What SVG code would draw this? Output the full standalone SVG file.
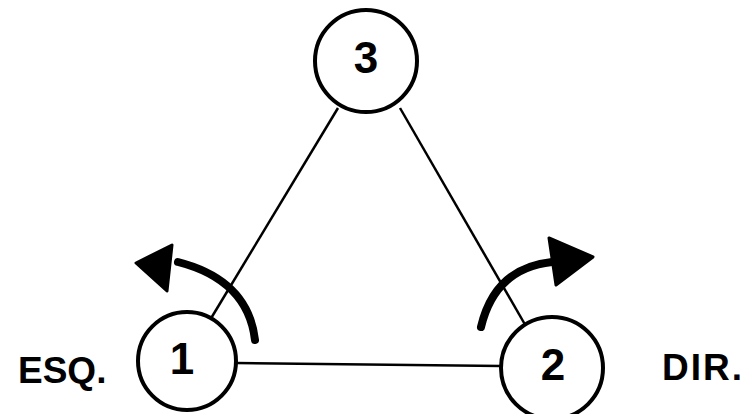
<svg xmlns="http://www.w3.org/2000/svg" width="752" height="414" viewBox="0 0 752 414">
<defs>
<style>
.node{fill:#fff;stroke:#000;stroke-width:4}
.edge{stroke:#000;stroke-width:2.5;fill:none}
.rot{stroke:#000;stroke-width:8;fill:none;stroke-linecap:round}
.head{fill:#000;stroke:#000;stroke-width:3;stroke-linejoin:round}
.num{font-family:"Liberation Sans",Arial,sans-serif;font-weight:bold;font-size:44px;text-anchor:middle}
.lbl{font-family:"Liberation Sans",Arial,sans-serif;font-weight:bold;font-size:37px}
</style>
</defs>
<rect width="752" height="414" fill="#fff"/>
<g id="connectors">
<line class="edge" x1="338" y1="108" x2="210" y2="320"/>
<line class="edge" x1="400" y1="108" x2="527" y2="328"/>
<line class="edge" x1="236" y1="363" x2="501" y2="366"/>
</g>
<g id="rot-left">
<path class="rot" d="M255 340 Q248 280 178 262"/>
<polygon class="head" points="136,263 172,245 167,291"/>
</g>
<g id="rot-right">
<path class="rot" d="M481 327 Q495 268 552 262"/>
<polygon class="head" points="549,238 593,257 556,285"/>
</g>
<g id="node1">
<circle class="node" cx="187" cy="361" r="49"/>
<text class="num" x="182" y="374" font-size="40">1</text>
</g>
<g id="node2">
<circle class="node" cx="552" cy="368" r="51"/>
<text class="num" x="553" y="380">2</text>
</g>
<g id="node3">
<circle class="node" cx="366" cy="61" r="51"/>
<text class="num" x="366" y="73">3</text>
</g>
<text class="lbl" x="18" y="383">ESQ.</text>
<text class="lbl" x="662" y="380" letter-spacing="2">DIR.</text>
</svg>
